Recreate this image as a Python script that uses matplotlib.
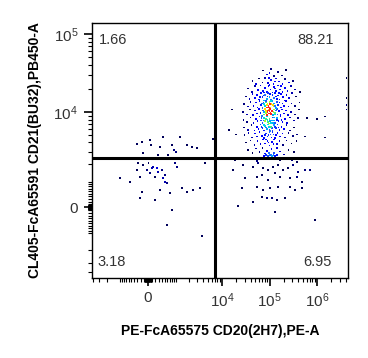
import numpy as np
import matplotlib.pyplot as plt
from matplotlib.ticker import FixedLocator, FixedFormatter, NullFormatter
from matplotlib.colors import ListedColormap

plt.rcParams['font.family'] = ['Liberation Sans', 'DejaVu Sans']
plt.rcParams['mathtext.fontset'] = 'custom'
plt.rcParams['mathtext.rm'] = 'Liberation Sans'
plt.rcParams['mathtext.it'] = 'Liberation Sans:italic'
plt.rcParams['mathtext.bf'] = 'Liberation Sans:bold'

# CD20+ CD21+ events (log10 of PE-A, log10 of PB450-A)
pos_pts = [
    (4.86, 4.53), (4.95, 4.48), (5.03, 4.55), (5.10, 4.46), (5.18, 4.51), (5.26, 4.47), (5.35, 4.54), (5.00, 4.50),
    (4.64, 4.40), (4.72, 4.36), (4.78, 4.43), (4.85, 4.38), (4.91, 4.44), (4.97, 4.37), (5.03, 4.41), (5.08, 4.36),
    (5.14, 4.43), (5.20, 4.39), (5.27, 4.36), (5.33, 4.42), (5.41, 4.38), (5.50, 4.40), (4.99, 4.44), (5.11, 4.39),
    (4.55, 4.30), (4.63, 4.26), (4.70, 4.33), (4.76, 4.28), (4.81, 4.34), (4.86, 4.27), (4.90, 4.31), (4.94, 4.26),
    (4.98, 4.33), (5.02, 4.29), (5.06, 4.25), (5.10, 4.32), (5.14, 4.27), (5.18, 4.34), (5.22, 4.29), (5.27, 4.26),
    (5.32, 4.31), (5.38, 4.27), (5.45, 4.33), (5.53, 4.29), (4.88, 4.25), (5.00, 4.35), (5.12, 4.30), (5.24, 4.33),
    (4.50, 4.20), (4.58, 4.17), (4.64, 4.23), (4.69, 4.18), (4.74, 4.22), (4.78, 4.16), (4.82, 4.24), (4.85, 4.19),
    (4.88, 4.15), (4.91, 4.22), (4.94, 4.17), (4.97, 4.24), (5.00, 4.19), (5.03, 4.16), (5.06, 4.22), (5.09, 4.18),
    (5.12, 4.24), (5.15, 4.17), (5.18, 4.21), (5.21, 4.16), (5.24, 4.23), (5.28, 4.19), (5.32, 4.15), (5.36, 4.22),
    (5.41, 4.18), (5.47, 4.24), (5.56, 4.20), (4.87, 4.21), (4.96, 4.20), (5.05, 4.15), (5.13, 4.20), (5.01, 4.23),
    (4.80, 4.19), (5.20, 4.24),
    (4.46, 4.10), (4.54, 4.07), (4.60, 4.13), (4.66, 4.08), (4.71, 4.12), (4.75, 4.06), (4.79, 4.14), (4.82, 4.09),
    (4.85, 4.05), (4.87, 4.12), (4.90, 4.08), (4.92, 4.14), (4.94, 4.06), (4.96, 4.11), (4.98, 4.08), (5.00, 4.13),
    (5.02, 4.06), (5.04, 4.10), (5.06, 4.14), (5.08, 4.07), (5.10, 4.11), (5.13, 4.05), (5.15, 4.13), (5.18, 4.09),
    (5.21, 4.12), (5.24, 4.06), (5.27, 4.11), (5.31, 4.08), (5.35, 4.14), (5.40, 4.07), (5.46, 4.11), (5.54, 4.08),
    (5.63, 4.12), (4.89, 4.10), (4.95, 4.09), (5.01, 4.10), (5.07, 4.09), (4.99, 4.06), (5.03, 4.14), (4.93, 4.12),
    (5.12, 4.08), (4.84, 4.11),
    (4.44, 4.00), (4.52, 3.97), (4.59, 4.03), (4.65, 3.96), (4.70, 4.02), (4.74, 3.98), (4.78, 4.04), (4.81, 3.99),
    (4.84, 3.95), (4.86, 4.02), (4.89, 3.97), (4.91, 4.04), (4.93, 3.99), (4.95, 3.96), (4.97, 4.02), (4.99, 3.98),
    (5.01, 4.04), (5.03, 3.97), (5.05, 4.01), (5.07, 3.96), (5.09, 4.03), (5.12, 3.99), (5.15, 4.04), (5.17, 3.97),
    (5.20, 4.01), (5.23, 3.96), (5.26, 4.03), (5.30, 3.98), (5.34, 4.02), (5.39, 3.96), (5.45, 4.00), (5.53, 3.97),
    (5.62, 4.03), (4.96, 4.00), (5.00, 4.01), (5.02, 3.99), (4.98, 4.03), (5.04, 3.98), (4.92, 4.01), (5.08, 4.00),
    (5.11, 3.97), (4.88, 4.00), (5.14, 4.02), (4.94, 3.97),
    (4.45, 3.90), (4.53, 3.87), (4.60, 3.93), (4.66, 3.86), (4.71, 3.91), (4.75, 3.88), (4.79, 3.94), (4.82, 3.89),
    (4.85, 3.86), (4.88, 3.92), (4.91, 3.88), (4.94, 3.94), (4.97, 3.87), (5.00, 3.91), (5.03, 3.86), (5.06, 3.93),
    (5.09, 3.89), (5.12, 3.86), (5.15, 3.92), (5.19, 3.88), (5.23, 3.94), (5.27, 3.87), (5.32, 3.91), (5.37, 3.86),
    (5.43, 3.93), (5.51, 3.89), (5.60, 3.92), (4.96, 3.90), (5.01, 3.88), (4.92, 3.91), (5.05, 3.89), (4.87, 3.89),
    (5.10, 3.93), (4.99, 3.85), (5.16, 3.90), (4.83, 3.92), (5.07, 3.86), (5.25, 3.90),
    (4.46, 3.80), (4.55, 3.77), (4.62, 3.83), (4.68, 3.76), (4.73, 3.81), (4.77, 3.78), (4.81, 3.84), (4.85, 3.79),
    (4.88, 3.76), (4.91, 3.82), (4.94, 3.78), (4.97, 3.84), (5.00, 3.77), (5.03, 3.81), (5.06, 3.76), (5.09, 3.83),
    (5.13, 3.79), (5.17, 3.84), (5.21, 3.77), (5.25, 3.81), (5.30, 3.78), (5.36, 3.83), (5.43, 3.76), (5.52, 3.80),
    (4.93, 3.80), (4.99, 3.81), (5.05, 3.79), (4.89, 3.83), (5.11, 3.81), (5.02, 3.75), (4.83, 3.81), (5.19, 3.80),
    (4.47, 3.70), (4.56, 3.73), (4.63, 3.67), (4.69, 3.72), (4.74, 3.68), (4.79, 3.74), (4.84, 3.69), (4.88, 3.66),
    (4.92, 3.72), (4.96, 3.68), (5.00, 3.74), (5.04, 3.67), (5.08, 3.71), (5.12, 3.66), (5.17, 3.73), (5.22, 3.68),
    (5.27, 3.72), (5.33, 3.67), (5.40, 3.73), (5.49, 3.69), (5.58, 3.71), (4.98, 3.70), (5.06, 3.74), (4.90, 3.70),
    (5.14, 3.70), (5.02, 3.71),
    (4.50, 3.60), (4.60, 3.63), (4.68, 3.57), (4.75, 3.62), (4.81, 3.58), (4.86, 3.64), (4.91, 3.59), (4.96, 3.62),
    (5.00, 3.56), (5.05, 3.61), (5.10, 3.64), (5.15, 3.58), (5.21, 3.62), (5.28, 3.57), (5.36, 3.63), (5.46, 3.59),
    (5.57, 3.62), (4.98, 3.60), (5.08, 3.58), (4.93, 3.64),
    (4.54, 3.50), (4.64, 3.46), (4.72, 3.52), (4.79, 3.47), (4.85, 3.53), (4.90, 3.45), (4.95, 3.49), (5.00, 3.44),
    (5.04, 3.51), (5.09, 3.46), (5.15, 3.53), (5.22, 3.48), (5.30, 3.44), (5.40, 3.50), (5.52, 3.47), (4.97, 3.42),
    (5.01, 3.43), (5.05, 3.42), (5.08, 3.43), (5.12, 3.42), (4.93, 3.43), (5.03, 3.44), (5.10, 3.45), (4.99, 3.46),
    (5.15, 3.43), (4.88, 3.42),
    # stray events
    (4.15, 3.77), (4.21, 4.03), (4.29, 3.71), (5.64, 4.26), (5.79, 3.92), (6.00, 3.91),
    (6.17, 3.94), (5.75, 3.68), (6.17, 3.67),
    (6.62, 4.44), (6.62, 4.18), (6.62, 4.09), (6.62, 4.03),
]

# CD20- events near zero (linear PE-A, linear PB450-A)
neg_x = [-310, -163, 54, 440, 81, 341, 805, 1246, 1789, 2310, 901, 1003, 629, 279, -136, 2953, 6460,
         -279, -136, 10, 136, 249, 406, 54, 192, 279, 440, 510, 587, -220, -1003, -547, -163, -220,
         192, 341, 715, 1385, 1789, 2421, 3424, 805, 587, 3778, 953, 1058, 4371, 510, -27, -310, 108]
neg_y = [3815, 4058, 4313, 4726, 3694, 3463, 3694, 4726, 3694, 3463, 3159, 2965, 2685, 2685, 2867, 3366, 4447,
         2066, 1932, 2066, 1798, 1725, 1604, 1434, 1227, 1482, 1171, 980, 936, 1227, 1171, 980, 555, 327,
         253, 635, 516, 718, 555, 635, 718, -108, -677, -1171, 2066, 1798, 2066, 1324, 1604, 1604, 1725]

# CD20+ CD21- events (log10 PE-A, linear PB450-A)
lr_xlog = [4.27, 4.48, 4.74, 4.91, 5.05, 5.12, 5.22, 5.33, 5.47, 5.58,
           4.23, 4.44, 4.65, 4.76, 4.86, 4.97, 5.07, 5.18, 5.28, 5.39, 5.49, 5.60, 5.75, 5.85,
           4.48, 4.74, 4.84, 4.97, 5.12, 5.22, 5.43, 5.58, 5.68,
           4.42, 4.74, 4.86, 5.01, 5.18, 5.43, 5.54, 5.68,
           4.84, 4.95, 5.05, 5.16, 5.33, 4.34, 4.65, 5.12, 5.96]
lr_y = [2279, 2357, 2204, 2400, 2400, 2420, 2279, 2357, 2279, 2129,
        1604, 1932, 1798, 2066, 1725, 1604, 1798, 1932, 1604, 1725, 1932, 1482, 1604, 1604,
        1171, 1227, 1324, 1073, 1434, 1227, 1171, 1227, 980,
        718, 759, 635, 718, 759, 759, 635, 718,
        363, 327, 327, 253, 327, 36, 180, -180, -478]

gate_x = 7100
gate_y = 2450
quad_pct = {'ul': '1.66', 'ur': '88.21', 'll': '3.18', 'lr': '6.95'}

xs = np.concatenate([10 ** np.array([p[0] for p in pos_pts]), neg_x, 10 ** np.array(lr_xlog)])
ys = np.concatenate([10 ** np.array([p[1] for p in pos_pts]), neg_y, lr_y])

# pseudocolor by local density (in display-like units)
u = np.arcsinh(xs / 554) / np.log(10) * 47.5
v = np.arcsinh(ys / 1215) / np.log(10) * 78
d2 = (u[:, None] - u[None, :]) ** 2 + (v[:, None] - v[None, :]) ** 2
dens = (d2 < 5.0 ** 2).sum(axis=1)
cmap = ListedColormap(['#00005a', '#000080', '#0000b0', '#0000e0', '#0000ff', '#0000ff', '#0000ff',
                       '#0010ff', '#0010ff', '#0a30ff', '#1a50ff', '#2070ff', '#00a8ff',
                       '#00d8e0', '#40f080', '#a0ff30', '#ffe000', '#ff2020'])
order = np.argsort(dens)

fig = plt.figure(figsize=(3.68, 3.58), dpi=100)
ax = fig.add_axes([92 / 368, 1 - 277.5 / 358, 256 / 368, 255 / 358])
ax.set_xscale('asinh', linear_width=554)
ax.set_yscale('asinh', linear_width=1215)
ax.scatter(xs[order], ys[order], c=dens[order], cmap=cmap, vmin=0.5, vmax=18.5, s=1.4, marker='s',
           linewidths=0)
ax.set_xlim(-4150, 4.47e6)
ax.set_ylim(-4730, 1.40e5)

ax.axvline(gate_x, color='black', lw=2.2)
ax.axhline(gate_y, color='black', lw=2.2)

tc = '#333333'
ax.text(0.025, 0.93, quad_pct['ul'], transform=ax.transAxes, fontsize=10.5, color=tc, va='center')
ax.text(0.945, 0.93, quad_pct['ur'], transform=ax.transAxes, fontsize=10.5, color=tc, va='center', ha='right')
ax.text(0.02, 0.06, quad_pct['ll'], transform=ax.transAxes, fontsize=10.5, color=tc, va='center')
ax.text(0.935, 0.06, quad_pct['lr'], transform=ax.transAxes, fontsize=10.5, color=tc, va='center', ha='right')

# ticks
def minor_ticks(lo, hi, majors):
    out = []
    for e in range(1, 7):
        for k in range(1, 10):
            for sgn in (1, -1):
                t = sgn * k * 10 ** e
                if lo < t < hi and t not in majors:
                    out.append(t)
    return out

x_major = [0, 1e4, 1e5, 1e6]
y_major = [0, 1e4, 1e5]
ax.xaxis.set_major_locator(FixedLocator(x_major))
ax.xaxis.set_major_formatter(FixedFormatter(['0', r'$10^4$', r'$10^5$', r'$10^6$']))
ax.yaxis.set_major_locator(FixedLocator(y_major))
ax.yaxis.set_major_formatter(FixedFormatter(['0', r'$10^4$', r'$10^5$']))
ax.xaxis.set_minor_locator(FixedLocator(minor_ticks(-4150, 4.47e6, x_major)))
ax.yaxis.set_minor_locator(FixedLocator(minor_ticks(-4730, 1.4e5, y_major)))
ax.xaxis.set_minor_formatter(NullFormatter())
ax.yaxis.set_minor_formatter(NullFormatter())
ax.tick_params(which='major', length=6, width=1.2, labelsize=11, labelcolor=tc, pad=4)
ax.tick_params(which='minor', length=3, width=0.8)

for s in ax.spines.values():
    s.set_linewidth(1)

ax.set_xlabel('PE-FcA65575 CD20(2H7),PE-A', fontsize=10, fontweight='bold', labelpad=10)
ax.set_ylabel('CL405-FcA65591 CD21(BU32),PB450-A', fontsize=10, fontweight='bold', labelpad=8)

fig.savefig('out.png', dpi=100)
